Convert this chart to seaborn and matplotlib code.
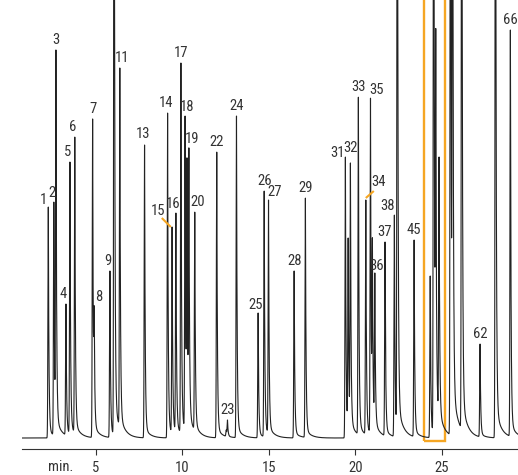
import numpy as np
import pandas as pd
import matplotlib.pyplot as plt
import seaborn as sns
from matplotlib import font_manager

sns.set_style("white")
# the reference uses a narrow sans; pick the narrowest one that is installed
installed = {f.name for f in font_manager.fontManager.ttflist}
narrow = "DejaVu Sans"
for cand in ["Liberation Sans Narrow", "Roboto Condensed", "Open Sans Condensed", "Roboto"]:
    if cand in installed:
        narrow = cand
        break
plt.rcParams['font.family'] = [narrow, 'DejaVu Sans']
label_size = 10.5 if narrow in ("Liberation Sans Narrow", "Roboto Condensed") else 9

# peak retention times (min), visible peak tops (signal units) and labels
peak_times = [2.27, 2.59, 2.71, 3.29, 3.52, 3.80, 4.83, 4.92, 5.83, 6.07,
              6.40, 7.83, 9.16, 9.42, 9.64, 9.93, 10.17, 10.28, 10.39, 10.73,
              12.00, 12.55, 12.62, 13.14, 14.39, 14.74, 14.99, 16.47, 17.12, 19.43,
              19.59, 19.72, 20.18, 20.61, 20.88, 20.99, 21.13, 21.72, 22.26, 22.43,
              23.40, 24.33, 24.53, 24.65, 24.84, 25.50, 25.62, 26.15, 27.21, 28.10,
              28.96]
peak_heights = [231, 236, 388, 134, 276, 301, 319, 131, 167, 900,
                370, 293, 325, 211, 225, 375, 322, 280, 290, 226,
                286, 8, 18, 322, 125, 247, 238, 167, 240, 281,
                200, 275, 341, 238, 340, 200, 165, 196, 223, 900,
                198, 162, 900, 409, 281, 900, 900, 900, 94, 900,
                408]
peak_labels = ["1", "2", "3", "4", "5", "6", "7", "8", "9", "",
               "11", "13", "14", "15", "16", "17", "18", "", "19", "20",
               "22", "", "23", "24", "25", "26", "27", "28", "29", "31",
               "", "32", "33", "34", "35", "", "36", "37", "38", "",
               "45", "", "", "", "", "", "", "", "62", "",
               "66"]
ticks = [5, 10, 15, 20, 25]
box_range = (23.96, 25.17)

# label offsets in pixels (dx, dy above the peak top)
label_offsets = {"1": (-5, 7), "2": (-2, 9), "4": (-3, 10), "5": (-2, 10),
                 "6": (-2, 10), "8": (5, 10), "9": (-2, 10), "11": (2, 10),
                 "13": (-2, 11), "14": (-2, 10), "15": (-14, 16), "16": (-3, 9),
                 "18": (2, 9), "19": (3, 9), "20": (3, 10), "25": (-3, 8),
                 "27": (6, 8), "31": (-8, 4), "32": (0, 15), "34": (13, 18),
                 "35": (6, 8), "36": (2, 7), "38": (-7, 9)}
leaders = {"15": ((-1.3, 0), (-10.3, 9)), "34": ((0, 2), (8, 9))}

px_per_min = 17.32
orange = "#f5a623"
ink = "#222222"
text_col = "#333333"


def peak_shape(dt):
    tail = np.clip(dt, 0, None)
    return np.where(dt < 0, np.exp(-0.5 * (dt / 0.022) ** 2),
                    0.965 * np.exp(-tail / 0.035) + 0.035 * np.exp(-tail / 0.3))


# the tops read off the picture include the tails of earlier peaks,
# so take those off to get each peak's own amplitude
amps = []
for i, (t0, h) in enumerate(zip(peak_times, peak_heights)):
    carry = sum(a * peak_shape(np.array(t0 - tp)) for a, tp in zip(amps, peak_times[:i]))
    amps.append(max(h - float(carry), 2))

t = np.linspace(0.75, 29.4, 30000)
signal = np.zeros_like(t)
for t0, a in zip(peak_times, amps):
    signal += a * peak_shape(t - t0)
df = pd.DataFrame({"time": t, "signal": signal})

fig = plt.figure(figsize=(5.18, 4.75), dpi=100)
ax = fig.add_axes([22 / 518, 26 / 475, 1 - 22 / 518, 449 / 475])
sns.lineplot(data=df, x="time", y="signal", color=ink, lw=0.8,
             estimator=None, sort=False, ax=ax)

ax.set_xlim(0.75, 29.4)
ax.set_ylim(-11, 438)

for t0, h, lab in zip(peak_times, peak_heights, peak_labels):
    if not lab:
        continue
    dx, dy = label_offsets.get(lab, (0, 10))
    ax.text(t0 + dx / px_per_min, h + dy, lab, ha="center", va="center",
            fontsize=label_size, color=text_col)
    if lab in leaders:
        (x1, y1), (x2, y2) = leaders[lab]
        ax.plot([t0 + x1 / px_per_min, t0 + x2 / px_per_min], [h + y1, h + y2],
                color=orange, lw=1.5, solid_capstyle="butt")

ax.add_patch(plt.Rectangle((box_range[0], -2.7), box_range[1] - box_range[0], 600,
                           fill=False, edgecolor=orange, lw=1.7, clip_on=False))

ax.set_xticks(ticks)
ax.set_xticklabels([str(v) for v in ticks])
ax.set_yticks([])
ax.set_xlabel("")
ax.set_ylabel("")
for s in ["left", "right", "top"]:
    ax.spines[s].set_visible(False)
ax.spines["bottom"].set_color(text_col)
ax.spines["bottom"].set_linewidth(0.8)
ax.tick_params(axis="x", direction="out", length=4, width=0.8, color=text_col,
               labelsize=label_size, labelcolor=text_col, pad=4.5, bottom=True)
ax.text(3.0, -29, "min.", ha="center", va="center", fontsize=label_size,
        color=text_col, clip_on=False)

fig.text(12 / 518, 1 - 2 / 475, "ECD", ha="left", va="bottom",
         fontsize=11, fontweight="bold", color=ink)

fig.savefig("out.png", dpi=100)
